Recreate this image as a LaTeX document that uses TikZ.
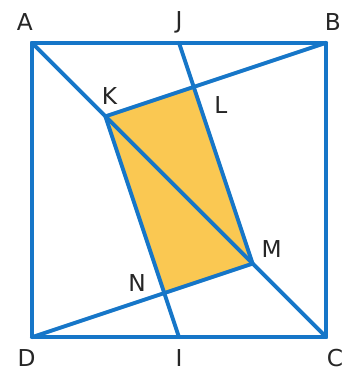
\documentclass[tikz,border=0pt]{standalone}
\usepackage{fontspec}
\setmainfont{DejaVu Sans}
\usepackage{tikz}
\definecolor{edgeblue}{RGB}{22,118,200}
\definecolor{areafill}{RGB}{250,200,82}

\begin{document}
\begin{tikzpicture}[
        seg/.style = {draw=edgeblue, line width=1.5pt, line join=round, line cap=round},
        area/.style = {fill=areafill},
        lbl/.style = {font=\fontsize{9}{11}\selectfont, text=black!85, inner sep=0pt}
    ]
        \useasboundingbox (-0.432,-0.432) rectangle (4.351,4.581);

        % Square corners and midpoints
        \coordinate (A) at (0,4);
        \coordinate (B) at (4,4);
        \coordinate (C) at (4,0);
        \coordinate (D) at (0,0);
        \coordinate (J) at (2,4);
        \coordinate (I) at (2,0);

        % Points on the diagonal
        \coordinate (K) at (1,3);
        \coordinate (M) at (3,1);

        % Crossings
        \coordinate (L) at (intersection of B--K and J--M);
        \coordinate (N) at (intersection of D--M and I--K);

        % Shaded quadrilateral
        \fill [area] (K) -- (L) -- (M) -- (N) -- cycle;

        % Lines
        \draw [seg] (A) -- (B) -- (C) -- (D) -- cycle;
        \draw [seg] (A) -- (C);
        \draw [seg] (B) -- (K);
        \draw [seg] (J) -- (M);
        \draw [seg] (D) -- (M);
        \draw [seg] (I) -- (K);

        % Labels
        \node (lA) [lbl] at (-0.095,4.284) {A};
        \node (lJ) [lbl] at (2,4.284) {J};
        \node (lB) [lbl] at (4.09,4.284) {B};
        \node (lK) [lbl] at (1.054,3.27) {K};
        \node (lL) [lbl] at (2.57,3.16) {L};
        \node (lM) [lbl] at (3.26,1.20) {M};
        \node (lN) [lbl] at (1.43,0.74) {N};
        \node (lD) [lbl] at (-0.07,-0.28) {D};
        \node (lI) [lbl] at (2,-0.28) {I};
        \node (lC) [lbl] at (4.12,-0.28) {C};
    \end{tikzpicture}
\end{document}
